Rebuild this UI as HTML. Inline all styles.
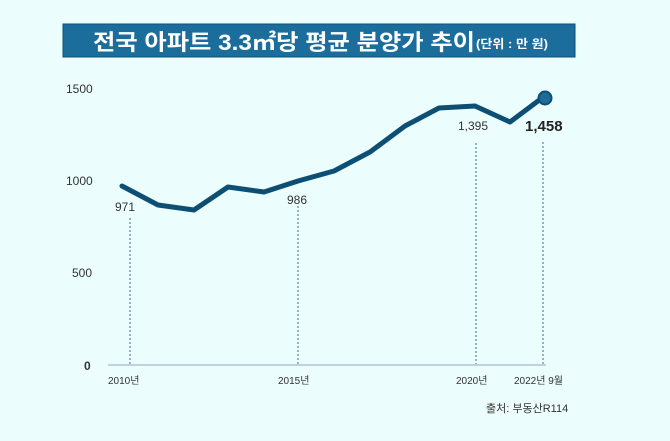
<!DOCTYPE html>
<html><head><meta charset="utf-8"><style>
body{margin:0;background:#ecfdfd;}
svg{display:block}
text{font-family:"Liberation Sans","Noto Sans CJK KR",sans-serif;}
</style></head><body>
<svg width="670" height="441" viewBox="0 0 670 441">
<rect width="670" height="441" fill="#ecfdfd"/>
<rect x="63" y="24" width="512" height="33" fill="#1b6d9c" stroke="#0f4f78" stroke-width="1"/>
<text x="93" y="50" font-size="22" font-weight="bold" fill="#fff" font-family="'Noto Sans CJK KR',sans-serif" textLength="382" lengthAdjust="spacingAndGlyphs">전국 아파트 3.3㎡당 평균 분양가 추이</text>
<text x="476" y="48" font-size="12" font-weight="bold" fill="#fff" font-family="'Noto Sans CJK KR',sans-serif" textLength="72" lengthAdjust="spacingAndGlyphs">(단위 : 만 원)</text>
<g font-size="12" fill="#333">
<text x="66" y="93">1500</text>
<text x="66" y="185">1000</text>
<text x="72" y="277">500</text>
<text x="84" y="370" font-weight="bold">0</text>
</g>
<line x1="108" y1="365" x2="546" y2="365" stroke="#b0c4d8" stroke-width="1.5"/>
<g stroke="#6a8aaa" stroke-width="1.3" stroke-dasharray="2,2">
<line x1="130" y1="218" x2="130" y2="364"/>
<line x1="298" y1="206" x2="298" y2="364"/>
<line x1="476" y1="143" x2="476" y2="364"/>
<line x1="543" y1="142" x2="543" y2="364"/>
</g>
<polyline points="122,186 158,205 194,210 228,187 264,192 298,181 334,171 370,152 405,126 439,108 475,106 510,122 542,98" fill="none" stroke="#0d4f74" stroke-width="5" stroke-linejoin="round" stroke-linecap="round"/>
<circle cx="545" cy="98" r="6.5" fill="#1d6b99" stroke="#0d4f74" stroke-width="2"/>
<g font-size="12" fill="#333">
<text x="115" y="211">971</text>
<text x="287" y="204">986</text>
<text x="458" y="130">1,395</text>
<text x="525" y="131" font-size="15" font-weight="bold" fill="#222">1,458</text>
</g>
<g font-size="10" fill="#333" font-family="'Noto Sans CJK KR',sans-serif">
<text x="108" y="384">2010년</text>
<text x="278" y="384">2015년</text>
<text x="456" y="384">2020년</text>
<text x="514" y="384">2022년 9월</text>
<text x="486" y="412" font-size="11">출처: 부동산R114</text>
</g>
</svg>
</body></html>
